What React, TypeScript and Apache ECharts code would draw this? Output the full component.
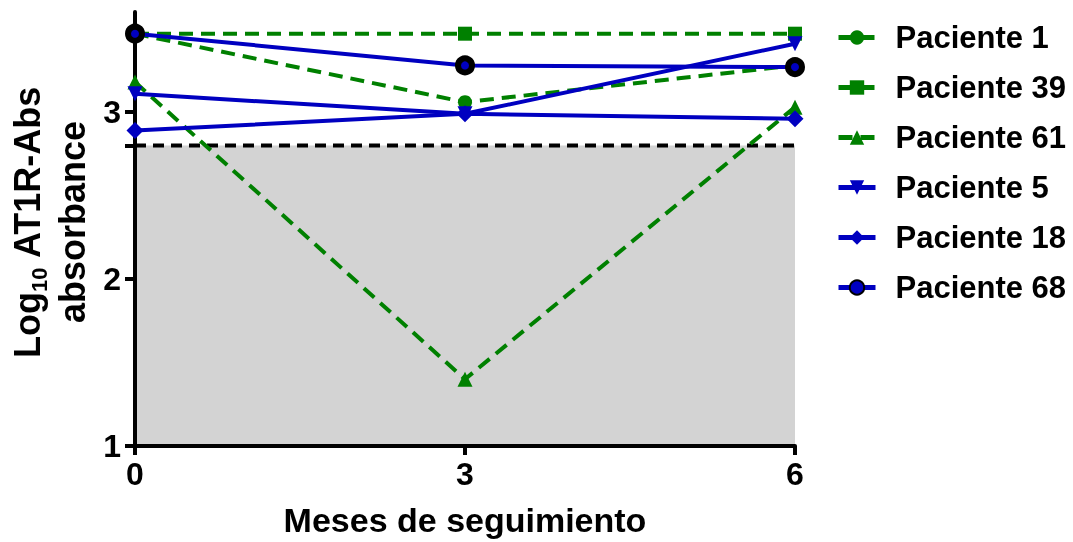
import React, { useEffect, useRef } from "react";
import * as echarts from "echarts";

const months = [0, 3, 6];
const xTicks = [0, 3, 6];
const yTicks = [1, 2, 3];
const threshold = 2.8;

const paciente1 = [3.47, 3.06, 3.28];
const paciente39 = [3.47, 3.47, 3.47];
const paciente61 = [3.18, 1.4, 3.03];
const paciente5 = [3.11, 2.99, 3.41];
const paciente18 = [2.89, 2.99, 2.96];
const paciente68 = [3.47, 3.28, 3.27];

const seriesNames = ["Paciente 1", "Paciente 39", "Paciente 61", "Paciente 5", "Paciente 18", "Paciente 68"];

const GREEN = "#008000";
const BLUE = "#0000c0";
const FONT = "Liberation Sans, Arial, sans-serif";

export default function App() {
  const ref = useRef<HTMLDivElement>(null);
  useEffect(() => {
    if (!ref.current) return;
    const chart = echarts.init(ref.current, null, { renderer: "svg" });
    const pts = (vals: number[]) => months.map((m, i) => [m, vals[i]]);
    const dashed = { color: GREEN, width: 4, type: [14, 8] as any };
    const solid = { color: BLUE, width: 4, type: "solid" as any };
    const series: any[] = [
      {
        name: "threshold",
        type: "line",
        data: [[xTicks[0], threshold], [xTicks[xTicks.length - 1], threshold]],
        symbol: "none",
        silent: true,
        z: 2,
        lineStyle: { color: "#000", width: 4, type: [11, 7] },
        markArea: {
          silent: true,
          z: 1,
          itemStyle: { color: "#d3d3d3" },
          data: [[{ coord: [xTicks[0], yTicks[0]] }, { coord: [xTicks[xTicks.length - 1], threshold] }]],
        },
      },
      { name: seriesNames[0], type: "line", z: 5, data: pts(paciente1), symbol: "circle", symbolSize: 14, itemStyle: { color: GREEN }, lineStyle: dashed },
      { name: seriesNames[1], type: "line", z: 5, data: pts(paciente39), symbol: "rect", symbolSize: 14, itemStyle: { color: GREEN }, lineStyle: dashed },
      { name: seriesNames[2], type: "line", z: 5, data: pts(paciente61), symbol: "triangle", symbolSize: 15, itemStyle: { color: GREEN }, lineStyle: dashed },
      { name: seriesNames[3], type: "line", z: 5, data: pts(paciente5), symbol: "triangle", symbolRotate: 180, symbolSize: 15, itemStyle: { color: BLUE }, lineStyle: solid },
      { name: seriesNames[4], type: "line", z: 5, data: pts(paciente18), symbol: "diamond", symbolSize: 17, itemStyle: { color: BLUE }, lineStyle: solid },
      { name: seriesNames[5], type: "line", z: 5, data: pts(paciente68), symbol: "circle", symbolSize: 14, itemStyle: { color: BLUE, borderColor: "#000", borderWidth: 6 }, lineStyle: solid },
    ];
    chart.setOption({
      animation: false,
      grid: { left: 135, right: 278, top: 12, bottom: 94, containLabel: false },
      xAxis: {
        type: "value",
        min: 0,
        max: 6,
        interval: 3,
        z: 3,
        splitLine: { show: false },
        axisLine: { show: true, lineStyle: { color: "#000", width: 4 } },
        axisTick: { show: true, length: 9, lineStyle: { color: "#000", width: 4 } },
        axisLabel: { color: "#000", fontSize: 32, fontWeight: "bold", fontFamily: FONT, margin: 12 },
        name: "Meses de seguimiento",
        nameLocation: "middle",
        nameGap: 57,
        nameTextStyle: { color: "#000", fontSize: 34, fontWeight: "bold", fontFamily: FONT },
      },
      yAxis: {
        type: "value",
        min: 1,
        max: 3.6,
        interval: 1,
        z: 3,
        splitLine: { show: false },
        axisLine: { show: true, lineStyle: { color: "#000", width: 4 } },
        axisTick: { show: true, length: 10, customValues: [...yTicks, threshold], lineStyle: { color: "#000", width: 4 } },
        axisLabel: { color: "#000", fontSize: 32, fontWeight: "bold", fontFamily: FONT, margin: 14, customValues: yTicks },
      },
      legend: {
        orient: "vertical",
        left: 836,
        top: 22,
        padding: 0,
        itemWidth: 37,
        itemHeight: 18,
        itemGap: 19,
        data: seriesNames,
        lineStyle: { width: 5 },
        textStyle: { color: "#000", fontSize: 31, fontWeight: "bold", fontFamily: FONT, padding: [0, 0, 0, 15] },
      },
      graphic: [
        {
          type: "text",
          x: 50,
          y: 222,
          rotation: Math.PI / 2,
          style: {
            text: "Log{sub|10} AT1R-Abs\nabsorbance",
            align: "center",
            verticalAlign: "middle",
            fill: "#000",
            font: `bold 36px ${FONT}`,
            lineHeight: 45,
            rich: {
              sub: { font: `bold 22px ${FONT}`, fill: "#000", verticalAlign: "bottom", lineHeight: 45 },
            },
          },
        },
      ],
      series,
    });
    return () => chart.dispose();
  }, []);
  return <div ref={ref} style={{ position: "fixed", left: 0, top: 0, width: 1073, height: 542 }} />;
}
